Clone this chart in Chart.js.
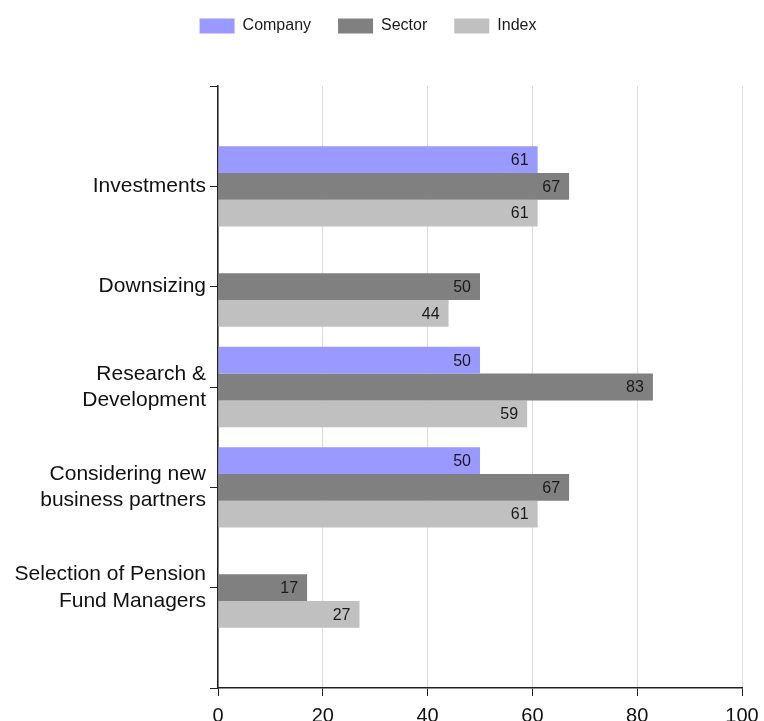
<!DOCTYPE html>
<html>
<head>
<meta charset="utf-8">
<script src="https://cdn.jsdelivr.net/npm/chart.js@4.4.0/dist/chart.umd.min.js"></script>
<style>
  html, body { margin: 0; padding: 0; background: #fff; }
  #wrap { width: 764px; height: 721px; }
</style>
</head>
<body>
<div id="wrap"><canvas id="grafico" width="764" height="721"></canvas></div>
<script>
// Datos del gráfico
const categorias = [
    'Investments',
    'Downsizing',
    ['Research &', 'Development'],
    ['Considering new', 'business partners'],
    ['Selection of Pension', 'Fund Managers']
];
const valoresCompany = [61, null, 50, 50, null];
const valoresSector = [67, 50, 83, 67, 17];
const valoresIndex = [61, 44, 59, 61, 27];
const ticksX = [0, 20, 40, 60, 80, 100];

// Un hueco arriba y abajo, como en el original
const etiquetas = [''].concat(categorias, ['']);
const rellenar = arr => [null].concat(arr, [null]);

const fuente = "'Liberation Sans', Arial, sans-serif";

// Etiquetas de valor dentro del final de cada barra
const etiquetasValor = {
    id: 'etiquetasValor',
    afterDatasetsDraw(chart) {
        const ctx = chart.ctx;
        ctx.save();
        ctx.font = '16px ' + fuente;
        ctx.fillStyle = '#1a1a1a';
        ctx.textAlign = 'right';
        ctx.textBaseline = 'middle';
        chart.data.datasets.forEach((ds, i) => {
            const meta = chart.getDatasetMeta(i);
            meta.data.forEach((barra, j) => {
                const v = ds.data[j];
                if (v === null || v === undefined) return;
                ctx.fillText(String(v), barra.x - 9, barra.y + 1);
            });
        });
        ctx.restore();
    }
};

// Espacio extra debajo de la leyenda y leyenda algo más arriba
const margenLeyenda = {
    id: 'margenLeyenda',
    beforeInit(chart) {
        const leyenda = chart.legend;
        const fitOriginal = leyenda.fit;
        leyenda.fit = function() {
            fitOriginal.bind(leyenda)();
            this.height = 86;
        };
        const drawOriginal = leyenda.draw;
        leyenda.draw = function() {
            chart.ctx.save();
            chart.ctx.translate(-3, -9);
            drawOriginal.call(leyenda);
            chart.ctx.restore();
        };
    }
};

const ctx = document.getElementById('grafico').getContext('2d');
new Chart(ctx, {
    type: 'bar',
    data: {
        labels: etiquetas,
        datasets: [
            { label: 'Company', data: rellenar(valoresCompany), backgroundColor: '#9999ff', borderWidth: 0 },
            { label: 'Sector', data: rellenar(valoresSector), backgroundColor: '#808080', borderWidth: 0 },
            { label: 'Index', data: rellenar(valoresIndex), backgroundColor: '#c0c0c0', borderWidth: 0 }
        ]
    },
    options: {
        indexAxis: 'y',
        responsive: false,
        animation: false,
        layout: { padding: { left: 0, right: 22, top: 0, bottom: 0 } },
        datasets: {
            bar: { categoryPercentage: 0.8, barPercentage: 1.0 }
        },
        plugins: {
            tooltip: { enabled: false },
            legend: {
                position: 'top',
                labels: {
                    boxWidth: 35,
                    boxHeight: 15,
                    padding: 27,
                    color: '#1a1a1a',
                    font: { family: fuente, size: 16 }
                }
            }
        },
        scales: {
            x: {
                min: 0,
                max: 100,
                afterBuildTicks: s => { s.ticks = ticksX.map(v => ({ value: v })); },
                afterFit: s => { s.height = 33; s.paddingLeft = 0; s.paddingRight = 0; },
                border: { color: '#222', width: 1.5 },
                grid: { color: '#dcdcdc', lineWidth: 1, tickColor: '#222', tickLength: 8 },
                ticks: { color: '#111', padding: 8, font: { family: fuente, size: 20 } }
            },
            y: {
                offset: false,
                afterFit: s => { s.width = 218; s.paddingTop = 0; s.paddingBottom = 0; },
                border: { color: '#222', width: 1.5 },
                grid: { offset: false, drawOnChartArea: false, tickColor: '#222', tickLength: 8 },
                ticks: { color: '#111', padding: 4, autoSkip: false, font: { family: fuente, size: 21, lineHeight: 1.25 } }
            }
        }
    },
    plugins: [etiquetasValor, margenLeyenda]
});
</script>
</body>
</html>
